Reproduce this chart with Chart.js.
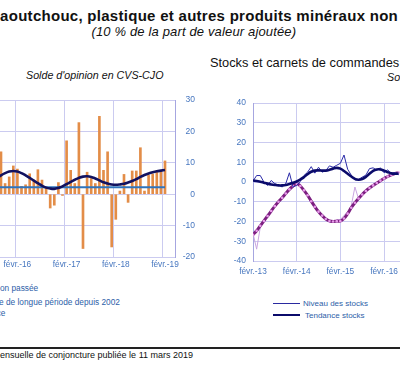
<!DOCTYPE html>
<html lang="fr">
<head>
<meta charset="utf-8">
<title>Caoutchouc, plastique et autres produits minéraux non métalliques</title>
<script src="https://cdn.jsdelivr.net/npm/chart.js@4.4.1/dist/chart.umd.min.js"></script>
<style>
  html, body { margin: 0; padding: 0; background: #fff; }
  #page { position: relative; width: 400px; height: 372px; overflow: hidden;
          font-family: "Liberation Sans", Arial, sans-serif; }
  .txt { position: absolute; white-space: nowrap; line-height: 1; }
  .box { position: absolute; }
  .sym { position: absolute; }
</style>
</head>
<body>
<div id="page">
  <div class="txt" style="left:-11px;top:8.3px;font-size:15px;letter-spacing:0.28px;font-weight:bold;color:#111">Caoutchouc, plastique et autres produits minéraux non métalliques</div>
  <div class="txt" style="left:91.5px;top:25.3px;font-size:13px;letter-spacing:0.15px;font-style:italic;color:#111">(10 % de la part de valeur ajoutée)</div>

  <div class="txt" style="left:26px;top:70px;font-size:10.7px;font-style:italic;color:#111">Solde d'opinion en CVS-CJO</div>
  <div class="txt" style="left:210px;top:56.8px;font-size:12.8px;color:#111">Stocks et carnets de commandes</div>
  <div class="txt" style="left:387px;top:71.5px;font-size:10.7px;font-style:italic;color:#111">Solde d'opinion en CVS-CJO</div>

  <div class="box" style="left:-40px;top:90px;width:235px;height:187px"><canvas id="graficoProd" width="235" height="187"></canvas></div>
  <div class="box" style="left:213px;top:91px;width:317px;height:190px"><canvas id="graficoStocks" width="317" height="190"></canvas></div>

  <!-- légende gauche (coupée) -->
  <div class="txt" style="left:-30.5px;top:284px;font-size:8.3px;color:#2d5ea8">Production passée</div>
  <div class="txt" style="left:-30.5px;top:297.7px;font-size:8.3px;color:#2d5ea8">Moyenne de longue période depuis 2002</div>
  <div class="txt" style="left:-30.5px;top:308.7px;font-size:8.3px;color:#2d5ea8">Tendance</div>

  <!-- légende droite -->
  <div class="sym" style="left:273px;top:303px;width:27px;height:1.2px;background:#2a2aa0"></div>
  <div class="txt" style="left:303px;top:300.2px;font-size:8px;color:#2d5ea8">Niveau des stocks</div>
  <div class="sym" style="left:273px;top:314px;width:27px;height:2.4px;background:#0b0b6b"></div>
  <div class="txt" style="left:305px;top:311.5px;font-size:8px;color:#2d5ea8">Tendance stocks</div>

  <div class="sym" style="left:0;top:347.3px;width:400px;height:1.7px;background:#222"></div>
  <div class="txt" style="right:207px;top:351px;font-size:9px;color:#111">Source : Banque de France – Enquête mensuelle de conjoncture publiée le 11 mars 2019</div>
</div>

<script>
// ---- Graphique de gauche : production passée ----
const moisProd = ['sept.-15', 'oct.-15', 'nov.-15', 'déc.-15',
  'janv.-16', 'févr.-16', 'mars-16', 'avr.-16', 'mai-16', 'juin-16', 'juil.-16', 'août-16', 'sept.-16', 'oct.-16', 'nov.-16', 'déc.-16',
  'janv.-17', 'févr.-17', 'mars-17', 'avr.-17', 'mai-17', 'juin-17', 'juil.-17', 'août-17', 'sept.-17', 'oct.-17', 'nov.-17', 'déc.-17',
  'janv.-18', 'févr.-18', 'mars-18', 'avr.-18', 'mai-18', 'juin-18', 'juil.-18', 'août-18', 'sept.-18', 'oct.-18', 'nov.-18', 'déc.-18',
  'janv.-19', 'févr.-19'];
const productionPassee = [null, 13.5, 3.4, 5.5,
  9, 8, 2.5, 3, 6.5, 4.5, 7.8, 4.5, 2, -4.4, -3.5, 3.7,
  -0.4, 17, 7.6, 3.4, 22.8, -17.3, 7, 5, 3.4, 24.8, 7.6, 13.5,
  -16.8, -8, 1, 6.3, -2.6, 7.4, 7.4, 14.8, 1, 6, 6.4, 7.1,
  7.6, 10.6];
const tendanceProd = [5.0, 6.0, 6.7, 7.2,
  7.4, 7.2, 6.7, 6.0, 5.2, 4.3, 3.5, 2.7, 2.1, 1.8, 1.7, 2.0,
  2.5, 3.2, 3.9, 4.6, 5.2, 5.6, 5.7, 5.5, 5.0, 4.4, 3.8, 3.4,
  3.1, 3.0, 3.1, 3.3, 3.7, 4.2, 4.8, 5.5, 6.1, 6.6, 7.0, 7.3,
  7.5, 7.7];
const moyenneLongue = [2.2, 2.2]; // premier et dernier mois
const ticksProd = ['févr.-16', 'févr.-17', 'févr.-18', 'févr.-19'];
const yTicksProd = [-20, -10, 0, 10, 20, 30];

// ---- Graphique de droite : stocks et carnets ----
const moisStocks = ['févr.-13', 'mars-13', 'avr.-13', 'mai-13', 'juin-13', 'juil.-13', 'août-13', 'sept.-13', 'oct.-13', 'nov.-13', 'déc.-13',
  'janv.-14', 'févr.-14', 'mars-14', 'avr.-14', 'mai-14', 'juin-14', 'juil.-14', 'août-14', 'sept.-14', 'oct.-14', 'nov.-14', 'déc.-14',
  'janv.-15', 'févr.-15', 'mars-15', 'avr.-15', 'mai-15', 'juin-15', 'juil.-15', 'août-15', 'sept.-15', 'oct.-15', 'nov.-15', 'déc.-15',
  'janv.-16', 'févr.-16', 'mars-16', 'avr.-16', 'mai-16', 'juin-16'];
const niveauStocks = [0.5, 3.3, 3.3, 0, -1.7, 0.8, -0.8, -1.5, -2.5, -0.8, 4.7,
  -2.5, -1.7, 0.3, 3.3, 5, 7.8, 4.5, 7.5, 5, 5.8, 8.2, 7.5,
  8.5, 9.5, 13.7, 6.5, 3.5, 1, 1.3, 2.5, 3.5, 6.8, 7.2, 6,
  7.2, 4.7, 6.2, 4.2, 4.8, 3.7];
const tendanceStocks = [0.8, 0.5, 0.2, -0.3, -0.8, -1.2, -1.5, -1.7, -1.7, -1.5, -1,
  -0.4, 0.3, 1.3, 2.5, 4, 5.2, 5.8, 5.9, 5.8, 5.8, 6.2, 6.8,
  7.2, 6.8, 5.6, 4.2, 2.8, 1.6, 1.2, 1.5, 2.6, 4.2, 5.7, 6.4,
  6.4, 5.8, 5, 4.4, 4.2, 4.3];
const carnets = [-26, -34, -23, -20, -17.5, -14, -12.5, -10.5, -7.5, -5, -4,
  -1.5, 0.5, -1, -4.5, -7, -9, -12, -15.5, -16.5, -19, -20.5, -20.5,
  -19, -19, -17, -15, -12, -2.5, -8.5, -6, -5, -3, -1.5, -0.8,
  0.5, 2, 2.5, 3.8, 4.5, 4.8];
const tendanceCarnets = [-26.7, -24.7, -22.2, -19.7, -17.2, -14.7, -12.2, -10, -8, -5.8, -3.7,
  -2, -0.8, -2, -4.2, -6.7, -9.7, -12.5, -15, -17, -18.7, -19.7, -20,
  -19.8, -19.8, -18.5, -16, -13, -10.5, -8.3, -6.3, -4.5, -3, -1.7, -0.5,
  0.7, 1.8, 2.8, 3.6, 4.3, 4.8];
const ticksStocks = ['févr.-13', 'févr.-14', 'févr.-15', 'févr.-16'];
const yTicksStocks = [-40, -30, -20, -10, 0, 10, 20, 30, 40];

const police = '"Liberation Sans", Arial, sans-serif';
const bleuTexte = '#4676bf';
const grille = '#cbcbf0';
const bordure = '#a6a6e0';

const pts = arr => arr.map((v, i) => ({ x: i, y: v }));

// Graphique gauche
const posProd = ticksProd.map(t => moisProd.indexOf(t));
new Chart(document.getElementById('graficoProd').getContext('2d'), {
    type: 'bar',
    data: {
        datasets: [{
            type: 'line',
            label: 'Tendance',
            data: pts(tendanceProd),
            borderColor: '#12125f',
            borderWidth: 2.6,
            pointRadius: 0,
            tension: 0.4,
            fill: false
        }, {
            type: 'line',
            label: 'Moyenne de longue période depuis 2002',
            data: [{ x: 0, y: moyenneLongue[0] }, { x: moisProd.length - 1, y: moyenneLongue[1] }],
            borderColor: '#2f74bd',
            borderWidth: 2,
            pointRadius: 0,
            fill: false
        }, {
            label: 'Production passée',
            data: pts(productionPassee),
            backgroundColor: '#e38d48',
            barThickness: 2
        }]
    },
    options: {
        responsive: false,
        animation: false,
        layout: { padding: { top: 10, left: 0, right: 0, bottom: 0 } },
        plugins: { legend: { display: false }, tooltip: { enabled: false } },
        scales: {
            x: {
                type: 'linear', min: -9, max: 43.44, offset: false,
                grid: { display: true, drawOnChartArea: false, drawTicks: false, offset: false },
                border: { display: false },
                afterBuildTicks: ax => { ax.ticks = posProd.map(v => ({ value: v })); },
                afterFit: ax => { ax.height = 20; },
                ticks: {
                    autoSkip: false, maxRotation: 0, padding: 3,
                    color: bleuTexte, font: { family: police, size: 8.3 },
                    callback: v => moisProd[v]
                }
            },
            xg: {
                type: 'linear', position: 'bottom', min: -9, max: 43.44, offset: false,
                grid: { color: grille, lineWidth: 1, drawTicks: false, offset: false },
                border: { display: false },
                afterBuildTicks: ax => { ax.ticks = posProd.map(v => ({ value: v - 0.5 })); },
                afterFit: ax => { ax.height = 0; },
                ticks: { display: false }
            },
            y: {
                position: 'right', min: -20, max: 30,
                grid: { color: grille, lineWidth: 1, drawTicks: false },
                border: { display: true, color: bordure },
                afterBuildTicks: ax => { ax.ticks = yTicksProd.map(v => ({ value: v })); },
                afterFit: ax => { ax.width = 20; },
                ticks: {
                    crossAlign: 'far', padding: 1,
                    color: bleuTexte, font: { family: police, size: 8.5 }
                }
            }
        }
    }
});

// Graphique droite
const posStocks = ticksStocks.map(t => moisStocks.indexOf(t));
new Chart(document.getElementById('graficoStocks').getContext('2d'), {
    type: 'line',
    data: {
        datasets: [{
            label: 'Tendance stocks',
            data: pts(tendanceStocks),
            borderColor: '#0b0b6b',
            borderWidth: 2.6,
            pointRadius: 0,
            tension: 0.4
        }, {
            label: 'Niveau des stocks',
            data: pts(niveauStocks),
            borderColor: '#2a2aa8',
            borderWidth: 1,
            pointRadius: 0,
            tension: 0
        }, {
            label: 'Tendance carnets',
            data: pts(tendanceCarnets),
            borderColor: '#7c1f80',
            borderWidth: 3,
            pointRadius: 1.3,
            pointBorderWidth: 0,
            pointBackgroundColor: '#e79ae9',
            tension: 0.4
        }, {
            label: 'Carnets de commandes',
            data: pts(carnets),
            borderColor: '#c8a4e0',
            borderWidth: 1,
            pointRadius: 0,
            tension: 0
        }]
    },
    options: {
        responsive: false,
        animation: false,
        layout: { padding: { top: 10, left: 0, right: 0, bottom: 0 } },
        plugins: { legend: { display: false }, tooltip: { enabled: false } },
        scales: {
            x: {
                type: 'linear', min: 0, max: 75,
                grid: { color: grille, lineWidth: 1, drawTicks: false },
                border: { display: false },
                afterBuildTicks: ax => { ax.ticks = posStocks.map(v => ({ value: v })); },
                afterFit: ax => { ax.height = 20; },
                ticks: {
                    autoSkip: false, maxRotation: 0, padding: 5.5,
                    color: bleuTexte, font: { family: police, size: 8.3 },
                    callback: v => moisStocks[v]
                }
            },
            y: {
                position: 'left', min: -40, max: 40,
                grid: { color: grille, lineWidth: 1, drawTicks: false },
                border: { display: true, color: bordure },
                afterBuildTicks: ax => { ax.ticks = yTicksStocks.map(v => ({ value: v })); },
                afterFit: ax => { ax.width = 40; },
                ticks: {
                    padding: 7,
                    color: bleuTexte, font: { family: police, size: 8.5 }
                }
            }
        }
    }
});
</script>
</body>
</html>
